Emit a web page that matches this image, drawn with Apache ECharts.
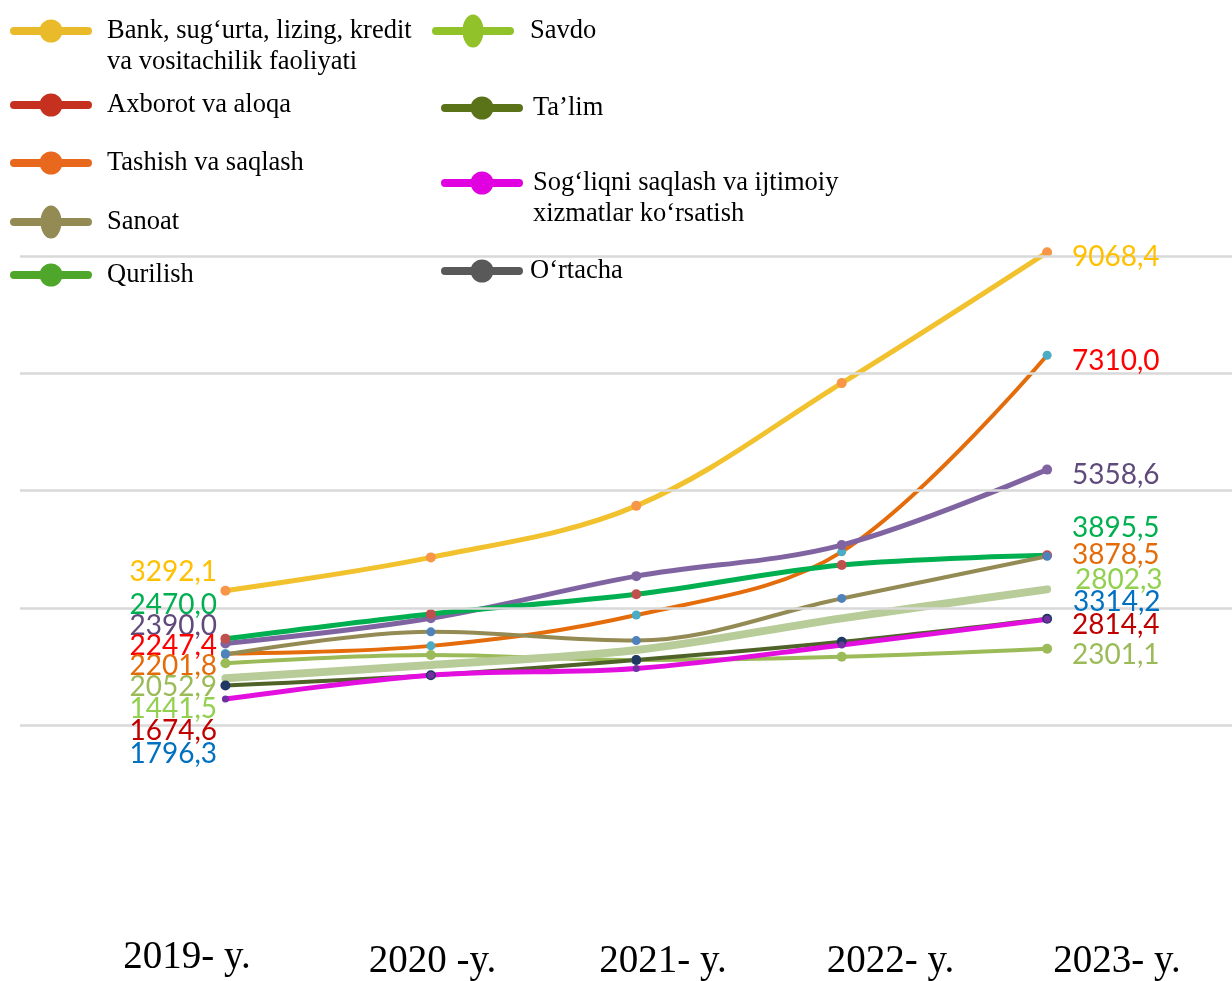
<!DOCTYPE html>
<html>
<head>
<meta charset="utf-8">
<script src="https://cdn.jsdelivr.net/npm/echarts@6/dist/echarts.min.js"></script>
<style>html,body{margin:0;padding:0;background:#fff}#c{width:1232px;height:981px}</style>
</head>
<body>
<div id="c"></div>
<script>
// ---------- data ----------
const years = [2019, 2020, 2021, 2022, 2023];
const yearLabels = ['2019- y.', '2020 -y.', '2021- y.', '2022- y.', '2023- y.'];

const bankVals     = [3292.1, 3860, 4740, 6835, 9068.4];
const axborotVals  = [2220, 2350, 2876, 3955, 7310.0];
const tashishVals  = [2390.0, 2820, 3540, 4070, 5358.6];
const qurilishVals = [2470.0, 2895, 3230, 3730, 3895.5];
const sanoatVals   = [2201.8, 2590, 2440, 3160, 3878.5];
const savdoVals    = [2052.9, 2195, 2110, 2165, 2301.1];
const ortachaVals  = [1796.3, 2025, 2280, 2820, 3314.2];
const talimVals    = [1674.6, 1850, 2110, 2420, 2814.4];
const sogliqVals   = [1441.5, 1850, 1965, 2365, 2802.3];

const gridValues = [1000, 3000, 5000, 7000, 9000];

const leftLabels  = ['3292,1', '2470,0', '2390,0', '2247,4', '2201,8', '2052,9', '1441,5', '1674,6', '1796,3'];
const rightLabels = ['9068,4', '7310,0', '5358,6', '3895,5', '3878,5', '2802,3', '3314,2', '2814,4', '2301,1'];

const names = {
  bank: 'Bank, sug‘urta, lizing, kredit va vositachilik faoliyati',
  axborot: 'Axborot va aloqa',
  tashish: 'Tashish va saqlash',
  sanoat: 'Sanoat',
  qurilish: 'Qurilish',
  savdo: 'Savdo',
  talim: 'Ta’lim',
  sogliq: 'Sog‘liqni saqlash va ijtimoiy xizmatlar ko‘rsatish',
  ortacha: 'O‘rtacha'
};
const displayNames = {};
displayNames[names.bank] = '\nBank, sug‘urta, lizing, kredit\nva vositachilik faoliyati';
displayNames[names.sogliq] = '\nSog‘liqni saqlash va ijtimoiy\nxizmatlar ko‘rsatish';

// ---------- styles / layout ----------
const leftLabelColors  = ['#FFC000', '#00B050', '#604A7B', '#FF0000', '#E36C09', '#9BBB59', '#92D050', '#C00000', '#0070C0'];
const leftLabelY       = [572, 605, 626, 646, 666, 687, 709, 731, 754];
const rightLabelColors = ['#FFC000', '#FF0000', '#604A7B', '#00B050', '#E36C09', '#92D050', '#0070C0', '#C00000', '#9BBB59'];
const rightLabelY      = [257, 361, 475, 528, 555, 580, 602, 625, 655];
const rightLabelX      = [1072, 1072, 1072, 1072, 1072, 1075, 1073, 1072, 1072];
// small per-label nudges of the year labels (padding: [top, 0, 0, left])
const yearLabelPad = [[0, 0, 0, 0], [4, 0, 0, 26], [4, 0, 0, 22], [4, 0, 0, 12], [4, 0, 0, 0]];

const ICON_CIRCLE = 'path://M4,7.5L78,7.5A4,4 0 0,1 78,15.5L4,15.5A4,4 0 0,1 4,7.5Z M29.5,11.5A11.5,11.5 0 1,1 52.5,11.5A11.5,11.5 0 1,1 29.5,11.5Z';
const ICON_ELLIPSE = 'path://M4,12.5L78,12.5A4,4 0 0,1 78,20.5L4,20.5A4,4 0 0,1 4,12.5Z M30.5,16.5A10.5,16.5 0 1,1 51.5,16.5A10.5,16.5 0 1,1 30.5,16.5Z';

function mk(name, vals, color, width, symColor, symSize, z) {
  return {
    type: 'line', name: name, xAxisIndex: 0, yAxisIndex: 0,
    data: years.map((y, i) => [y, vals[i]]),
    smooth: 0.35, clip: false, z: z,
    symbol: 'circle', symbolSize: symSize, showSymbol: true,
    lineStyle: { color: color, width: width, cap: 'round' },
    itemStyle: { color: symColor, borderWidth: 0 },
    emphasis: { disabled: true }
  };
}

function legend(name, left, top, icon, iconH, color, padLeft) {
  return {
    data: [{ name: name, icon: icon, itemStyle: { color: color, borderWidth: 0 } }],
    left: left, top: top, padding: 0, itemWidth: 82, itemHeight: iconH,
    selectedMode: false,
    formatter: n => displayNames[n] || n,
    textStyle: {
      fontFamily: 'Liberation Serif', fontSize: 26.5, color: '#000', lineHeight: 31,
      padding: [0, 0, 0, padLeft]
    }
  };
}

const series = [
  {
    type: 'line', name: '_grid', data: [], xAxisIndex: 0, yAxisIndex: 0, z: 0, silent: true,
    markLine: {
      silent: true, symbol: 'none', label: { show: false },
      lineStyle: { color: '#D9D9D9', width: 2.5, type: 'solid' },
      data: gridValues.map(v => ({ yAxis: v }))
    }
  },
  mk(names.bank, bankVals, '#F2C12E', 5, '#F79646', 10, 3),
  mk(names.axborot, axborotVals, '#E46C0A', 4, '#4BACC6', 9, 3),
  mk(names.tashish, tashishVals, '#8064A2', 5, '#8064A2', 10, 3),
  mk(names.qurilish, qurilishVals, '#00B050', 5, '#C0504D', 10, 3),
  mk(names.sanoat, sanoatVals, '#948A54', 4, '#4F81BD', 9, 3),
  mk(names.savdo, savdoVals, '#9BBB59', 4, '#9BBB59', 10, 3),
  mk(names.ortacha, ortachaVals, '#B7CC98', 8, '#B7CC98', 0, 3),
  mk(names.talim, talimVals, '#4F6228', 4, '#1F3864', 10, 3),
  mk(names.sogliq, sogliqVals, '#E20FDF', 5, '#7030A0', 7, 3)
];

const graphics = [];
leftLabels.forEach((t, i) => graphics.push({
  type: 'text', silent: true, z: 10,
  style: { text: t, x: 217, y: leftLabelY[i], align: 'right', verticalAlign: 'middle',
           font: '28px Lato', fill: leftLabelColors[i] }
}));
rightLabels.forEach((t, i) => graphics.push({
  type: 'text', silent: true, z: 10,
  style: { text: t, x: rightLabelX[i], y: rightLabelY[i], align: 'left', verticalAlign: 'middle',
           font: '28px Lato', fill: rightLabelColors[i] }
}));

const rich = {};
yearLabelPad.forEach((p, i) => {
  rich['y' + i] = { fontFamily: 'Liberation Serif', fontSize: 39, color: '#000', padding: p };
});

const option = {
  animation: false,
  backgroundColor: '#fff',
  grid: [
    { left: 20, right: 0, top: 227, bottom: 51 },
    { left: 187, right: 115, top: 227, bottom: 51 }
  ],
  xAxis: [
    { type: 'value', gridIndex: 0, min: 2018, max: 2023.9, show: false },
    { type: 'category', gridIndex: 1, data: yearLabels, boundaryGap: false,
      axisLine: { show: false }, axisTick: { show: false }, splitLine: { show: false },
      axisLabel: { interval: 0, margin: 16, fontFamily: 'Liberation Serif', fontSize: 39, color: '#000',
                   formatter: (v, i) => '{y' + i + '|' + v + '}', rich: rich } }
  ],
  yAxis: [
    { type: 'value', gridIndex: 0, min: -2500, max: 9500, show: false },
    { type: 'value', gridIndex: 1, show: false }
  ],
  legend: [
    legend(names.bank, 10, 31 - 46.5, ICON_CIRCLE, 23, '#E9BB2A', 10),
    legend(names.axborot, 10, 105 - 15.5, ICON_CIRCLE, 23, '#C5311E', 10),
    legend(names.tashish, 10, 163 - 15.5, ICON_CIRCLE, 23, '#E8681E', 10),
    legend(names.sanoat, 10, 222 - 16.5, ICON_ELLIPSE, 33, '#948A54', 10),
    legend(names.qurilish, 10, 275 - 15.5, ICON_CIRCLE, 23, '#4EA72A', 10),
    legend(names.savdo, 432, 31 - 16.5, ICON_ELLIPSE, 33, '#92C22A', 11),
    legend(names.talim, 441, 108 - 15.5, ICON_CIRCLE, 23, '#5A7319', 5),
    legend(names.sogliq, 441, 183 - 46.5, ICON_CIRCLE, 23, '#E000E0', 5),
    legend(names.ortacha, 441, 271 - 15.5, ICON_CIRCLE, 23, '#595959', 2)
  ],
  graphic: graphics,
  series: series
};

const chart = echarts.init(document.getElementById('c'), null, { renderer: 'canvas' });
chart.setOption(option);
</script>
</body>
</html>
